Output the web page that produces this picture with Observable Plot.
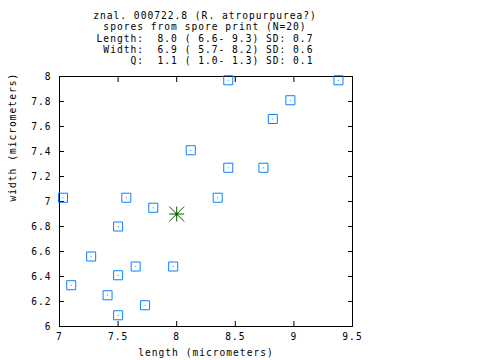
<!DOCTYPE html>
<html>
<head>
<meta charset="utf-8">
<script src="https://cdn.jsdelivr.net/npm/d3@7"></script>
<script src="https://cdn.jsdelivr.net/npm/@observablehq/plot@0.6"></script>
<style>
  html, body { margin: 0; padding: 0; background: #fff; }
</style>
</head>
<body>
<div id="chart"></div>
<script>
const lengths = [7.03, 7.57, 7.80, 7.50, 7.27, 7.65, 7.50, 7.10, 7.41, 7.73, 7.50, 7.97, 8.44, 9.38, 8.97, 8.82, 8.12, 8.44, 8.74, 8.35];
const widths  = [7.03, 7.03, 6.95, 6.80, 6.56, 6.48, 6.41, 6.33, 6.25, 6.17, 6.09, 6.48, 7.97, 7.97, 7.81, 7.66, 7.41, 7.27, 7.27, 7.03];
const meanLength = 8.0;
const meanWidth = 6.9;

const xTicks = [7, 7.5, 8, 8.5, 9, 9.5];
const yTicks = [6, 6.2, 6.4, 6.6, 6.8, 7, 7.2, 7.4, 7.6, 7.8, 8];

const titleLines = [
  "znal. 000722.8 (R. atropurpurea?)",
  "spores from spore print (N=20)",
  "Length:  8.0 ( 6.6- 9.3) SD: 0.7",
  " Width:  6.9 ( 5.7- 8.2) SD: 0.6",
  "     Q:  1.1 ( 1.0- 1.3) SD: 0.1"
];
const xLabel = "length (micrometers)";
const yLabel = "width (micrometers)";

const points = lengths.map((l, i) => ({length: l, width: widths[i]}));
const mean = [{length: meanLength, width: meanWidth}];

const blue = "#0a80ff";
const green = "#006400";

const star8 = {
  draw(context, size) {
    const r = Math.sqrt(size / Math.PI);
    context.moveTo(-r, 0); context.lineTo(r, 0);
    context.moveTo(0, -r); context.lineTo(0, r);
    context.moveTo(-r, -r); context.lineTo(r, r);
    context.moveTo(-r, r); context.lineTo(r, -r);
  }
};

const nb = s => s.replace(/ /g, "\u00a0");
const font = "DejaVu Sans Mono";
const fs = 9.6;

const chart = Plot.plot({
  width: 480,
  height: 360,
  marginLeft: 59,
  marginRight: 128,
  marginTop: 76,
  marginBottom: 34,
  style: {fontFamily: font, fontSize: fs + "px", letterSpacing: "1px", background: "#fff", color: "#000"},
  x: {domain: [7, 9.5], ticks: xTicks, tickFormat: d => String(d)},
  y: {domain: [6, 8], ticks: yTicks, tickFormat: d => String(d)},
  marks: [
    Plot.axisY(yTicks, {anchor: "left", tickSize: 5, dx: 5, tickPadding: 8, tickFormat: d => String(d), label: null, fontSize: fs}),
    Plot.axisY(yTicks, {anchor: "right", tickSize: 5, dx: -5, tickFormat: () => "", label: null}),
    Plot.axisX(xTicks, {anchor: "bottom", tickSize: 5, dy: -5, tickPadding: 7, tickFormat: d => String(d), label: null, fontSize: fs}),
    Plot.axisX(xTicks, {anchor: "top", tickSize: 5, dy: 5, tickFormat: () => "", label: null}),
    Plot.frame({stroke: "#000", strokeWidth: 1}),
    Plot.dot(points, {x: "length", y: "width", symbol: "square", r: 5.1, stroke: blue, strokeWidth: 1, fill: "none"}),
    Plot.dot(points, {x: "length", y: "width", r: 0.6, fill: blue, stroke: "none"}),
    Plot.dot(mean, {x: "length", y: "width", symbol: star8, r: 7.5, stroke: green, strokeWidth: 1, fill: "none"}),
    Plot.dot(mean, {x: "length", y: "width", r: 1.6, fill: green, stroke: "none"}),
    Plot.text([titleLines.map(nb).join("\n")], {frameAnchor: "top", lineAnchor: "top", dy: -65.3, dx: -1, lineHeight: 1.17, fontSize: fs, fill: "#000"}),
    Plot.text([xLabel], {frameAnchor: "bottom", dy: 29, fontSize: fs, fill: "#000"}),
    Plot.text([yLabel], {frameAnchor: "left", rotate: -90, dx: -47, fontSize: fs, fill: "#000"})
  ]
});
document.getElementById("chart").appendChild(chart);
</script>
</body>
</html>
